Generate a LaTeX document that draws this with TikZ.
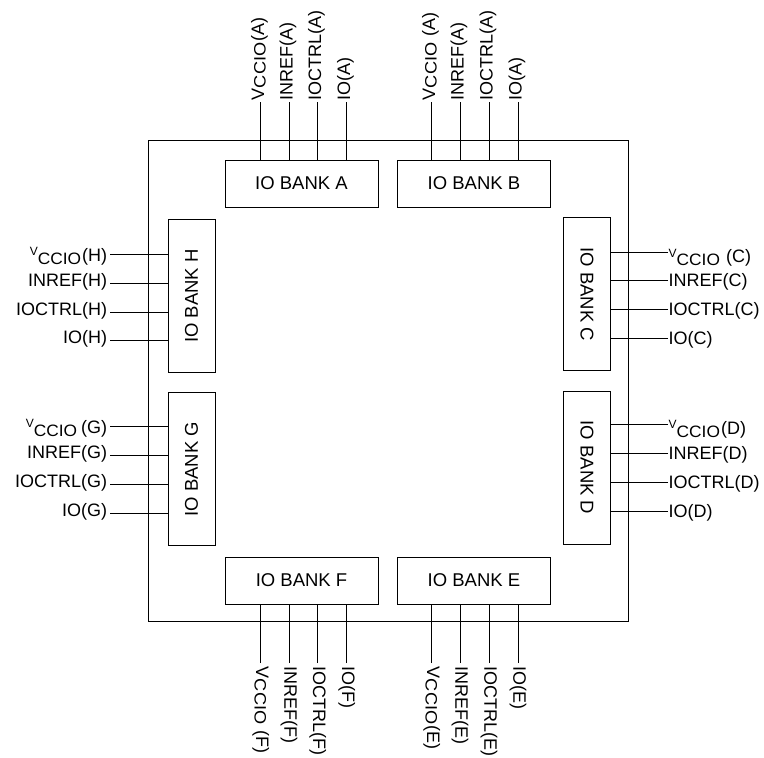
\documentclass[tikz,border=0pt]{standalone}
\usepackage{graphicx}
\usepackage{fontspec}
\setmainfont{Liberation Sans}
\newcommand{\vbig}{V\kern0.5pt\raisebox{-1.5pt}{\scalebox{1.1}[1]{\fontsize{16.5}{16.5}\selectfont CCIO}}\kern1.5pt}
\newcommand{\vlow}[1]{\raisebox{-4pt}{\raisebox{5.3pt}{\fontsize{12}{12}\selectfont V}\raisebox{-3pt}{\scalebox{1.05}[1]{\fontsize{16.5}{16.5}\selectfont CCIO}}\kern1pt#1}}
\begin{document}
\begin{tikzpicture}[x=1pt,y=-1pt,line width=0.8pt,
  txt/.style={inner sep=0pt,font=\fontsize{18}{18}\selectfont},
  bank/.style={draw,inner sep=0pt,font=\fontsize{18.5}{18.5}\selectfont,minimum width=153pt,minimum height=47pt}]
\useasboundingbox (0,0) rectangle (764,758);
% chip outline
\draw (148,140) rectangle (628,621);
% banks
\node[bank] (A) at (301.5,183.5) {IO BANK A};
\node[bank] (B) at (474,183.5) {IO BANK B};
\node[bank] (F) at (301.5,580.5) {IO BANK F};
\node[bank] (E) at (474,580.5) {IO BANK E};
\node[bank,rotate=90] (H) at (191.5,296) {IO BANK H};
\node[bank,rotate=90] (G) at (191.5,469.3) {IO BANK G};
\node[bank,rotate=-90] (C) at (587,294.3) {IO BANK C};
\node[bank,rotate=-90] (D) at (587,467.5) {IO BANK D};
% pins
\newcommand{\toppin}[4]{%
  \coordinate (#1) at (#2,102);
  \draw (#1) -- (#1 |- #3.north);
  \node[txt,rotate=90,anchor=base west] (#1t) at ([xshift=3.5pt,yshift=1pt]#1) {#4};}
\newcommand{\botpin}[4]{%
  \coordinate (#1) at (#2,663);
  \draw (#1) -- (#1 |- #3.south);
  \node[txt,rotate=-90,anchor=base west] (#1t) at ([xshift=-4.7pt,yshift=-3pt]#1) {#4};}
\newcommand{\leftpin}[4]{%
  \coordinate (#1) at (110,#2);
  \draw (#1) -- (#1 -| #3.north);
  \node[txt,anchor=base east] (#1t) at ([xshift=-2.5pt,yshift=-3.2pt]#1) {#4};}
\newcommand{\rightpin}[4]{%
  \coordinate (#1) at (668,#2);
  \draw (#1) -- (#1 -| #3.north);
  \node[txt,anchor=base west] (#1t) at ([xshift=0.3pt,yshift=-6pt]#1) {#4};}
\toppin{a1}{260.7}{A}{\vbig(A)}
\toppin{a2}{289}{A}{INREF(A)}
\toppin{a3}{317.7}{A}{IOCTRL(A)}
\toppin{a4}{346.7}{A}{IO(A)}
\toppin{b1}{431.7}{B}{\vbig\ (A)}
\toppin{b2}{460}{B}{INREF(A)}
\toppin{b3}{489}{B}{IOCTRL(A)}
\toppin{b4}{518}{B}{IO(A)}
\botpin{f1}{260.7}{F}{\vbig\ (F)}
\botpin{f2}{289}{F}{INREF(F)}
\botpin{f3}{317.7}{F}{IOCTRL(F)}
\botpin{f4}{346.7}{F}{IO(F)}
\botpin{e1}{431.7}{E}{\vbig(E)}
\botpin{e2}{460}{E}{INREF(E)}
\botpin{e3}{489}{E}{IOCTRL(E)}
\botpin{e4}{518}{E}{IO(E)}
\leftpin{h1}{254}{H}{\vlow{(H)}\hspace{4pt}}
\leftpin{h2}{283.3}{H}{INREF(H)}
\leftpin{h3}{312.3}{H}{IOCTRL(H)}
\leftpin{h4}{340.7}{H}{IO(H)}
\leftpin{g1}{426}{G}{\vlow{\,(G)}}
\leftpin{g2}{455}{G}{INREF(G)}
\leftpin{g3}{484}{G}{IOCTRL(G)}
\leftpin{g4}{513.3}{G}{IO(G)}
\rightpin{c1}{252.3}{C}{\vlow{\ (C)}}
\rightpin{c2}{280}{C}{INREF(C)}
\rightpin{c3}{309.3}{C}{IOCTRL(C)}
\rightpin{c4}{338.3}{C}{IO(C)}
\rightpin{d1}{424}{D}{\vlow{(D)}}
\rightpin{d2}{453.3}{D}{INREF(D)}
\rightpin{d3}{482.3}{D}{IOCTRL(D)}
\rightpin{d4}{511.7}{D}{IO(D)}
\end{tikzpicture}
\end{document}
